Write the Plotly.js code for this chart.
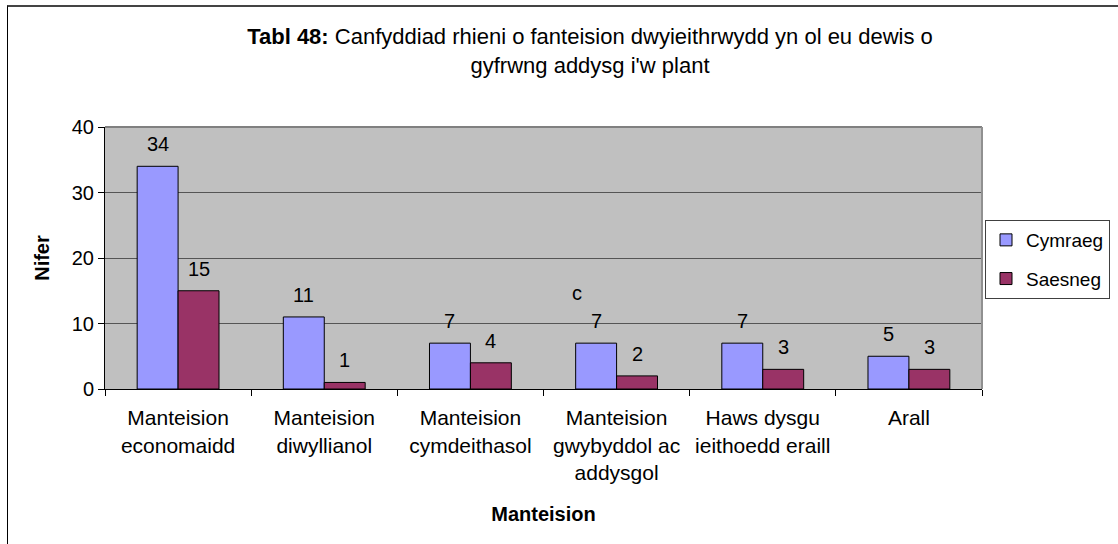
<!DOCTYPE html>
<html>
<head>
<meta charset="utf-8">
<script src="https://cdn.plot.ly/plotly-3.0.1.min.js"></script>
<style>
  html, body { margin: 0; padding: 0; background: #fff; }
  #wrap { position: absolute; left: 0; top: 0; width: 1118px; height: 544px; overflow: hidden; }
  #frame { position: absolute; left: 7px; top: 5px; width: 1200px; height: 700px; border-left: 1px solid #000; border-top: 2px solid #444; }
  #chart { position: absolute; left: 0; top: 0; width: 1118px; height: 544px; }
</style>
</head>
<body>
<div id="wrap">
  <div id="frame"></div>
  <div id="chart"></div>
</div>
<script>
const categories = [
  "Manteision<br>economaidd",
  "Manteision<br>diwyllianol",
  "Manteision<br>cymdeithasol",
  "Manteision<br>gwybyddol ac<br>addysgol",
  "Haws dysgu<br>ieithoedd eraill",
  "Arall"
];
const cymraeg = [34, 11, 7, 7, 7, 5];
const saesneg = [15, 1, 4, 2, 3, 3];
const seriesNames = ["Cymraeg", "Saesneg"];
const titleText = "<b>Tabl 48:</b> Canfyddiad rhieni o fanteision dwyieithrwydd yn ol eu dewis o<br>gyfrwng addysg i'w plant";
const yTitle = "Nifer";
const xTitle = "Manteision";
const strayText = "c";

const FONT = "Liberation Sans, Arial, sans-serif";
const FS = 20;

const traces = [
  {
    type: "bar", name: seriesNames[0], x: categories, y: cymraeg,
    marker: { color: "#9999ff", line: { color: "#000", width: 1 } },
    legendgroup: "a", hoverinfo: "skip"
  },
  {
    type: "bar", name: seriesNames[1], x: categories, y: saesneg,
    marker: { color: "#993366", line: { color: "#000", width: 1 } },
    legendgroup: "b", hoverinfo: "skip"
  }
];

const annotations = [];
const barOffset = 20.5;
[cymraeg, saesneg].forEach((vals, si) => {
  vals.forEach((v, i) => {
    annotations.push({
      x: categories[i], y: v, xref: "x", yref: "y",
      text: String(v), showarrow: false,
      xshift: si === 0 ? -barOffset : barOffset,
      yanchor: "bottom", yshift: 9,
      font: { family: FONT, size: FS, color: "#000" }
    });
  });
});
annotations.push({
  x: 0.538, y: 0.366, xref: "paper", yref: "paper",
  text: strayText, showarrow: false,
  font: { family: FONT, size: FS, color: "#000" }
});

const layout = {
  width: 1118, height: 544,
  margin: { l: 105, r: 136, t: 127, b: 155, autoexpand: false },
  paper_bgcolor: "rgba(0,0,0,0)",
  plot_bgcolor: "#c0c0c0",
  font: { family: FONT, size: FS, color: "#000" },
  title: {
    text: titleText,
    font: { family: FONT, size: 22, color: "#000" },
    xref: "container", x: 590 / 1118, xanchor: "center",
    yref: "container", y: 1 - 44 / 544, yanchor: "top"
  },
  barmode: "group",
  bargap: 0.44,
  bargroupgap: 0,
  showlegend: true,
  legend: {
    x: (985 - 105) / 877, xanchor: "left", y: 0.645, yanchor: "top",
    bordercolor: "#404040", borderwidth: 1, bgcolor: "#fff",
    font: { family: FONT, size: 19, color: "#000" },
    traceorder: "grouped", tracegroupgap: 11,
    itemwidth: 30
  },
  xaxis: {
    type: "category",
    showline: true, linecolor: "#000", linewidth: 1,
    ticks: "outside", ticklen: 6, tickcolor: "#000", tickson: "boundaries",
    showgrid: false, zeroline: false,
    ticklabelstandoff: 10,
    tickfont: { family: FONT, size: 21, color: "#000" },
    title: { text: "<b>" + xTitle + "</b>", font: { family: FONT, size: FS, color: "#000" }, standoff: 24 },
    automargin: false
  },
  yaxis: {
    range: [0, 40], dtick: 10,
    showline: true, linecolor: "#000", linewidth: 1,
    ticks: "outside", ticklen: 6, tickcolor: "#000",
    showgrid: true, gridcolor: "#555", gridwidth: 1,
    zeroline: false,
    tickfont: { family: FONT, size: FS, color: "#000" },
    title: { text: "<b>" + yTitle + "</b>", font: { family: FONT, size: FS, color: "#000" }, standoff: 16 },
    automargin: false
  },
  shapes: [
    { type: "line", xref: "paper", yref: "paper", x0: 0, x1: 1, y0: 1, y1: 1, line: { color: "#808080", width: 2 } },
    { type: "line", xref: "paper", yref: "paper", x0: 1, x1: 1, y0: 0, y1: 1, line: { color: "#909090", width: 2 } }
  ],
  annotations: annotations
};

Plotly.newPlot("chart", traces, layout, { displayModeBar: false, staticPlot: true });
</script>
</body>
</html>
